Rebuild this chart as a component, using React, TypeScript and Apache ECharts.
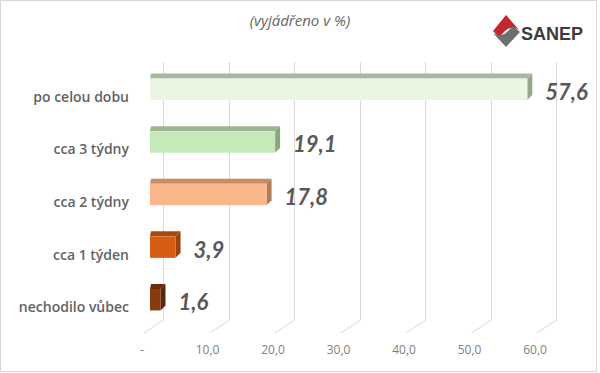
import React, { useEffect, useRef } from "react";
import * as echarts from "echarts";

const categories = ["po celou dobu", "cca 3 týdny", "cca 2 týdny", "cca 1 týden", "nechodilo vůbec"];
const values = [57.6, 19.1, 17.8, 3.9, 1.6];
const ticks = [0, 10, 20, 30, 40, 50, 60];
const subtitle = "(vyjádřeno v %)";
const brand = "SANEP";

const frontColors = ["#EAF6E1", "#C6E9B8", "#F9B78B", "#D65D13", "#8A3B0E"];
const topColors = ["#A9B9A1", "#9EB68F", "#C68C64", "#A8480F", "#6B2D0A"];
const sideColors = ["#96A78E", "#8CA57F", "#B27B56", "#9A420E", "#5C2708"];

const fmt = (v: number) => (v === 0 ? "-" : v.toFixed(1).replace(".", ","));

echarts.graphic.registerShape(
  "sanepRed",
  echarts.graphic.extendPath("M14 0 L27 15 Q20 10 13 16 L7 22 L1 16 Z", {})
);
echarts.graphic.registerShape(
  "sanepGray",
  echarts.graphic.extendPath("M28 17 L14 32 L1 18 Q9 23 15 17 L21 11 Z", {})
);

export default function App() {
  const ref = useRef<HTMLDivElement>(null);
  useEffect(() => {
    if (!ref.current) return;
    const chart = echarts.init(ref.current, null, { renderer: "svg" });
    chart.setOption({
      animation: false,
      backgroundColor: "#ffffff",
      grid: { left: 150, right: 57, top: 63, bottom: 47, containLabel: false },
      xAxis: {
        type: "value",
        min: 0,
        max: 60,
        interval: 10,
        axisLine: { show: false },
        axisTick: { show: false },
        splitLine: { show: false },
        axisLabel: {
          formatter: (v: number) => fmt(v),
          color: "#808080",
          fontSize: 12,
          fontFamily: "'Open Sans', Lato, sans-serif",
          margin: 17,
          padding: [0, 16, 0, 0],
        },
      },
      yAxis: {
        type: "category",
        inverse: true,
        data: categories,
        axisLine: { show: false },
        axisTick: { show: false },
        splitLine: { show: false },
        axisLabel: {
          color: "#636363",
          fontSize: 14,
          fontWeight: 600,
          fontFamily: "'Open Sans', Lato, sans-serif",
          margin: 21,
          verticalAlign: "top",
          lineHeight: 14,
        },
      },
      graphic: [
        {
          type: "rect",
          shape: { x: 0.5, y: 0.5, width: 596, height: 371 },
          style: { fill: "none", stroke: "#d6d6d6", lineWidth: 1 },
          silent: true,
        },
        {
          type: "text",
          x: 300,
          y: 20,
          style: {
            text: subtitle,
            fill: "#666666",
            fontSize: 15,
            fontStyle: "italic",
            fontFamily: "'Open Sans', Lato, sans-serif",
            align: "center",
            verticalAlign: "middle",
          },
        },
        { type: "sanepRed", x: 492, y: 15, style: { fill: "#C1272D" } },
        { type: "sanepGray", x: 492, y: 15, style: { fill: "#6D6E71" } },
        {
          type: "text",
          x: 521,
          y: 34,
          style: {
            text: brand,
            fill: "#3C3C3C",
            fontSize: 18,
            fontWeight: "bold",
            fontFamily: "'Liberation Sans', Arial, sans-serif",
            align: "left",
            verticalAlign: "middle",
          },
        },
      ],
      series: [
        {
          type: "custom",
          z: 1,
          silent: true,
          data: ticks.map((t) => [t, 0]),
          renderItem: (params: any, api: any) => {
            const v = api.value(0);
            const p = api.coord([v, 0]);
            const cs = params.coordSys;
            const xb = Math.round(p[0] + 13) + 0.5;
            const top = cs.y - 1;
            const bottom = cs.y + cs.height - 6;
            return {
              type: "group",
              children: [
                {
                  type: "line",
                  shape: { x1: xb, y1: top, x2: xb, y2: bottom },
                  style: { stroke: "#d9d9d9", lineWidth: 1 },
                },
                {
                  type: "line",
                  shape: { x1: xb, y1: bottom, x2: p[0] - 6, y2: bottom + 13 },
                  style: { stroke: "#d9d9d9", lineWidth: 1 },
                },
              ],
            };
          },
        },
        {
          type: "custom",
          z: 2,
          data: values.map((v, i) => [v, i]),
          renderItem: (params: any, api: any) => {
            const v = api.value(0);
            const i = api.value(1);
            const p0 = api.coord([0, i]);
            const p1 = api.coord([v, i]);
            const h = 21.5;
            const yTop = p0[1] - h / 2;
            const yBot = yTop + h;
            const dx = 5;
            const dy = 5;
            const idx = params.dataIndex;
            return {
              type: "group",
              children: [
                {
                  type: "polygon",
                  shape: {
                    points: [
                      [p0[0], yTop],
                      [p1[0], yTop],
                      [p1[0] + dx, yTop - dy],
                      [p0[0] + 1, yTop - dy],
                    ],
                  },
                  style: { fill: topColors[idx] },
                },
                {
                  type: "polygon",
                  shape: {
                    points: [
                      [p1[0], yTop],
                      [p1[0] + dx, yTop - dy],
                      [p1[0] + dx, yBot - dy],
                      [p1[0], yBot],
                    ],
                  },
                  style: { fill: sideColors[idx] },
                },
                {
                  type: "rect",
                  shape: { x: p0[0], y: yTop, width: p1[0] - p0[0], height: h },
                  style: { fill: frontColors[idx] },
                },
                {
                  type: "text",
                  x: p1[0] + dx + 13,
                  y: p0[1] + 2,
                  style: {
                    text: fmt(v),
                    fill: "#595959",
                    fontSize: 22,
                    fontWeight: "bold",
                    fontStyle: "italic",
                    fontFamily: "Lato, 'Open Sans', sans-serif",
                    align: "left",
                    verticalAlign: "middle",
                  },
                },
              ],
            };
          },
        },
      ],
    });
    return () => chart.dispose();
  }, []);
  return (
    <div
      ref={ref}
      style={{ position: "fixed", left: 0, top: 0, width: 600, height: 373 }}
    />
  );
}
